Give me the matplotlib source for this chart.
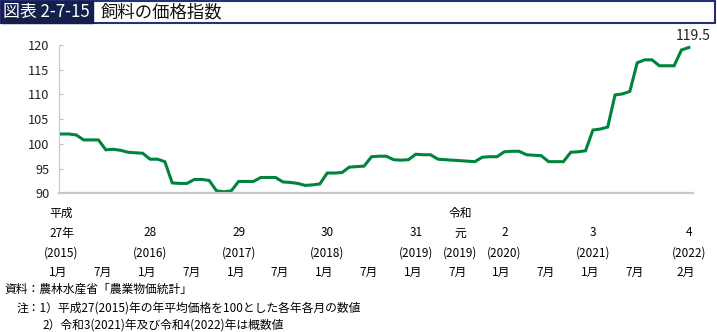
import matplotlib
matplotlib.use("Agg")
import matplotlib.pyplot as plt
import matplotlib.patches as patches
import matplotlib.transforms as transforms

plt.rcParams['font.family'] = ['Noto Sans CJK JP', 'DejaVu Sans']

# 飼料の価格指数（2015年1月～2022年2月、月別）
index_values = [
    102.0, 102.0, 101.8, 100.8, 100.8, 100.8, 98.8, 98.9, 98.7, 98.3, 98.2, 98.1,  # 2015
    96.9, 96.9, 96.4, 92.1, 92.0, 92.0, 92.8, 92.8, 92.6, 90.5, 90.3, 90.5,  # 2016
    92.4, 92.4, 92.4, 93.2, 93.2, 93.2, 92.3, 92.2, 92.0, 91.6, 91.7, 91.9,  # 2017
    94.1, 94.1, 94.2, 95.3, 95.4, 95.5, 97.4, 97.5, 97.5, 96.8, 96.7, 96.8,  # 2018
    97.9, 97.8, 97.8, 96.9, 96.8, 96.7, 96.6, 96.5, 96.4, 97.3, 97.4, 97.4,  # 2019
    98.4, 98.5, 98.5, 97.8, 97.7, 97.6, 96.4, 96.4, 96.4, 98.3, 98.4, 98.6,  # 2020
    102.8, 103.0, 103.4, 109.9, 110.1, 110.6, 116.4, 117.0, 117.0, 115.8, 115.8, 115.8,  # 2021
    119.0, 119.5,  # 2022
]
months = list(range(len(index_values)))

# 横軸ラベル
era_pos = [0, 54]
era_name = ["平成", "令和"]
year_pos = [0, 12, 24, 36, 48, 54, 60, 72, 85]
year_num = ["27年", "28", "29", "30", "31", "元", "2", "3", "4"]
year_ad = ["(2015)", "(2016)", "(2017)", "(2018)", "(2019)", "(2019)", "(2020)", "(2021)", "(2022)"]
month_pos = [0, 6, 12, 18, 24, 30, 36, 42, 48, 54, 60, 66, 72, 78, 85]
month_name = ["1月", "7月", "1月", "7月", "1月", "7月", "1月", "7月",
              "1月", "7月", "1月", "7月", "1月", "7月", "2月"]

y_ticks = [90, 95, 100, 105, 110, 115, 120]

W, H = 717, 332
fig = plt.figure(figsize=(W / 100, H / 100), dpi=100)

# タイトル帯
fig.patches.append(patches.Rectangle((1 / W, 1 - 23 / H), 714 / W, 22 / H,
                                     transform=fig.transFigure, facecolor="white",
                                     edgecolor="#26307a", linewidth=1.5))
fig.patches.append(patches.Rectangle((1 / W, 1 - 23 / H), 92 / W, 22 / H,
                                     transform=fig.transFigure, facecolor="#14204a",
                                     edgecolor="#14204a", linewidth=1.0))
fig.text(3 / W, 1 - 12 / H, "図表 2-7-15", color="white", fontsize=12.2,
         va="center", ha="left")
fig.text(101 / W, 1 - 12 / H, "飼料の価格指数", color="#111111", fontsize=12.5,
         va="center", ha="left")

# グラフ本体
ax = fig.add_axes([59.3 / W, 1 - 193.3 / H, (693.3 - 59.3) / W, (193.3 - 45) / H])
ax.plot(months, index_values, color="#00843c", linewidth=2.2, solid_joinstyle="miter")
ax.set_xlim(-0.3, 85.6)
ax.set_ylim(90, 120)
ax.set_yticks(y_ticks)
ax.tick_params(axis="y", direction="in", length=3, color="#bfbfbf",
               labelsize=9.2, pad=7, labelcolor="#222222")
ax.set_xticks([])
for s in ["top", "right"]:
    ax.spines[s].set_visible(False)
ax.spines["left"].set_color("#c8c8c8")
ax.spines["bottom"].set_color("#c8c8c8")
ax.spines["bottom"].set_linewidth(1.6)

# 最新値
ax.annotate("{:.1f}".format(index_values[-1]), (months[-1], index_values[-1]),
            xytext=(3, 8), textcoords="offset points", ha="center", va="center",
            fontsize=10, color="#222222", annotation_clip=False)

# 横軸の年・月ラベル
trans = transforms.blended_transform_factory(ax.transData, fig.transFigure)
for p, t in zip(era_pos, era_name):
    ax.text(p, 1 - 213 / H, t, transform=trans, ha="center", va="center", fontsize=8.5)
for p, t in zip(year_pos, year_num):
    ax.text(p, 1 - 233 / H, t, transform=trans, ha="center", va="center", fontsize=8.5)
for p, t in zip(year_pos, year_ad):
    ax.text(p, 1 - 253 / H, t, transform=trans, ha="center", va="center", fontsize=8.5)
for p, t in zip(month_pos, month_name):
    ax.text(p - 0.4, 1 - 272 / H, t, transform=trans, ha="center", va="center", fontsize=8.5)

# 資料・注
fig.text(4 / W, 1 - 289 / H, "資料：農林水産省「農業物価統計」", fontsize=8.5, va="center")
fig.text(17 / W, 1 - 308 / H, "注：1）平成27(2015)年の年平均価格を100とした各年各月の数値",
         fontsize=8.5, va="center")
fig.text(42 / W, 1 - 325 / H, "2）令和3(2021)年及び令和4(2022)年は概数値",
         fontsize=8.5, va="center")

fig.savefig("out.png", dpi=100)
